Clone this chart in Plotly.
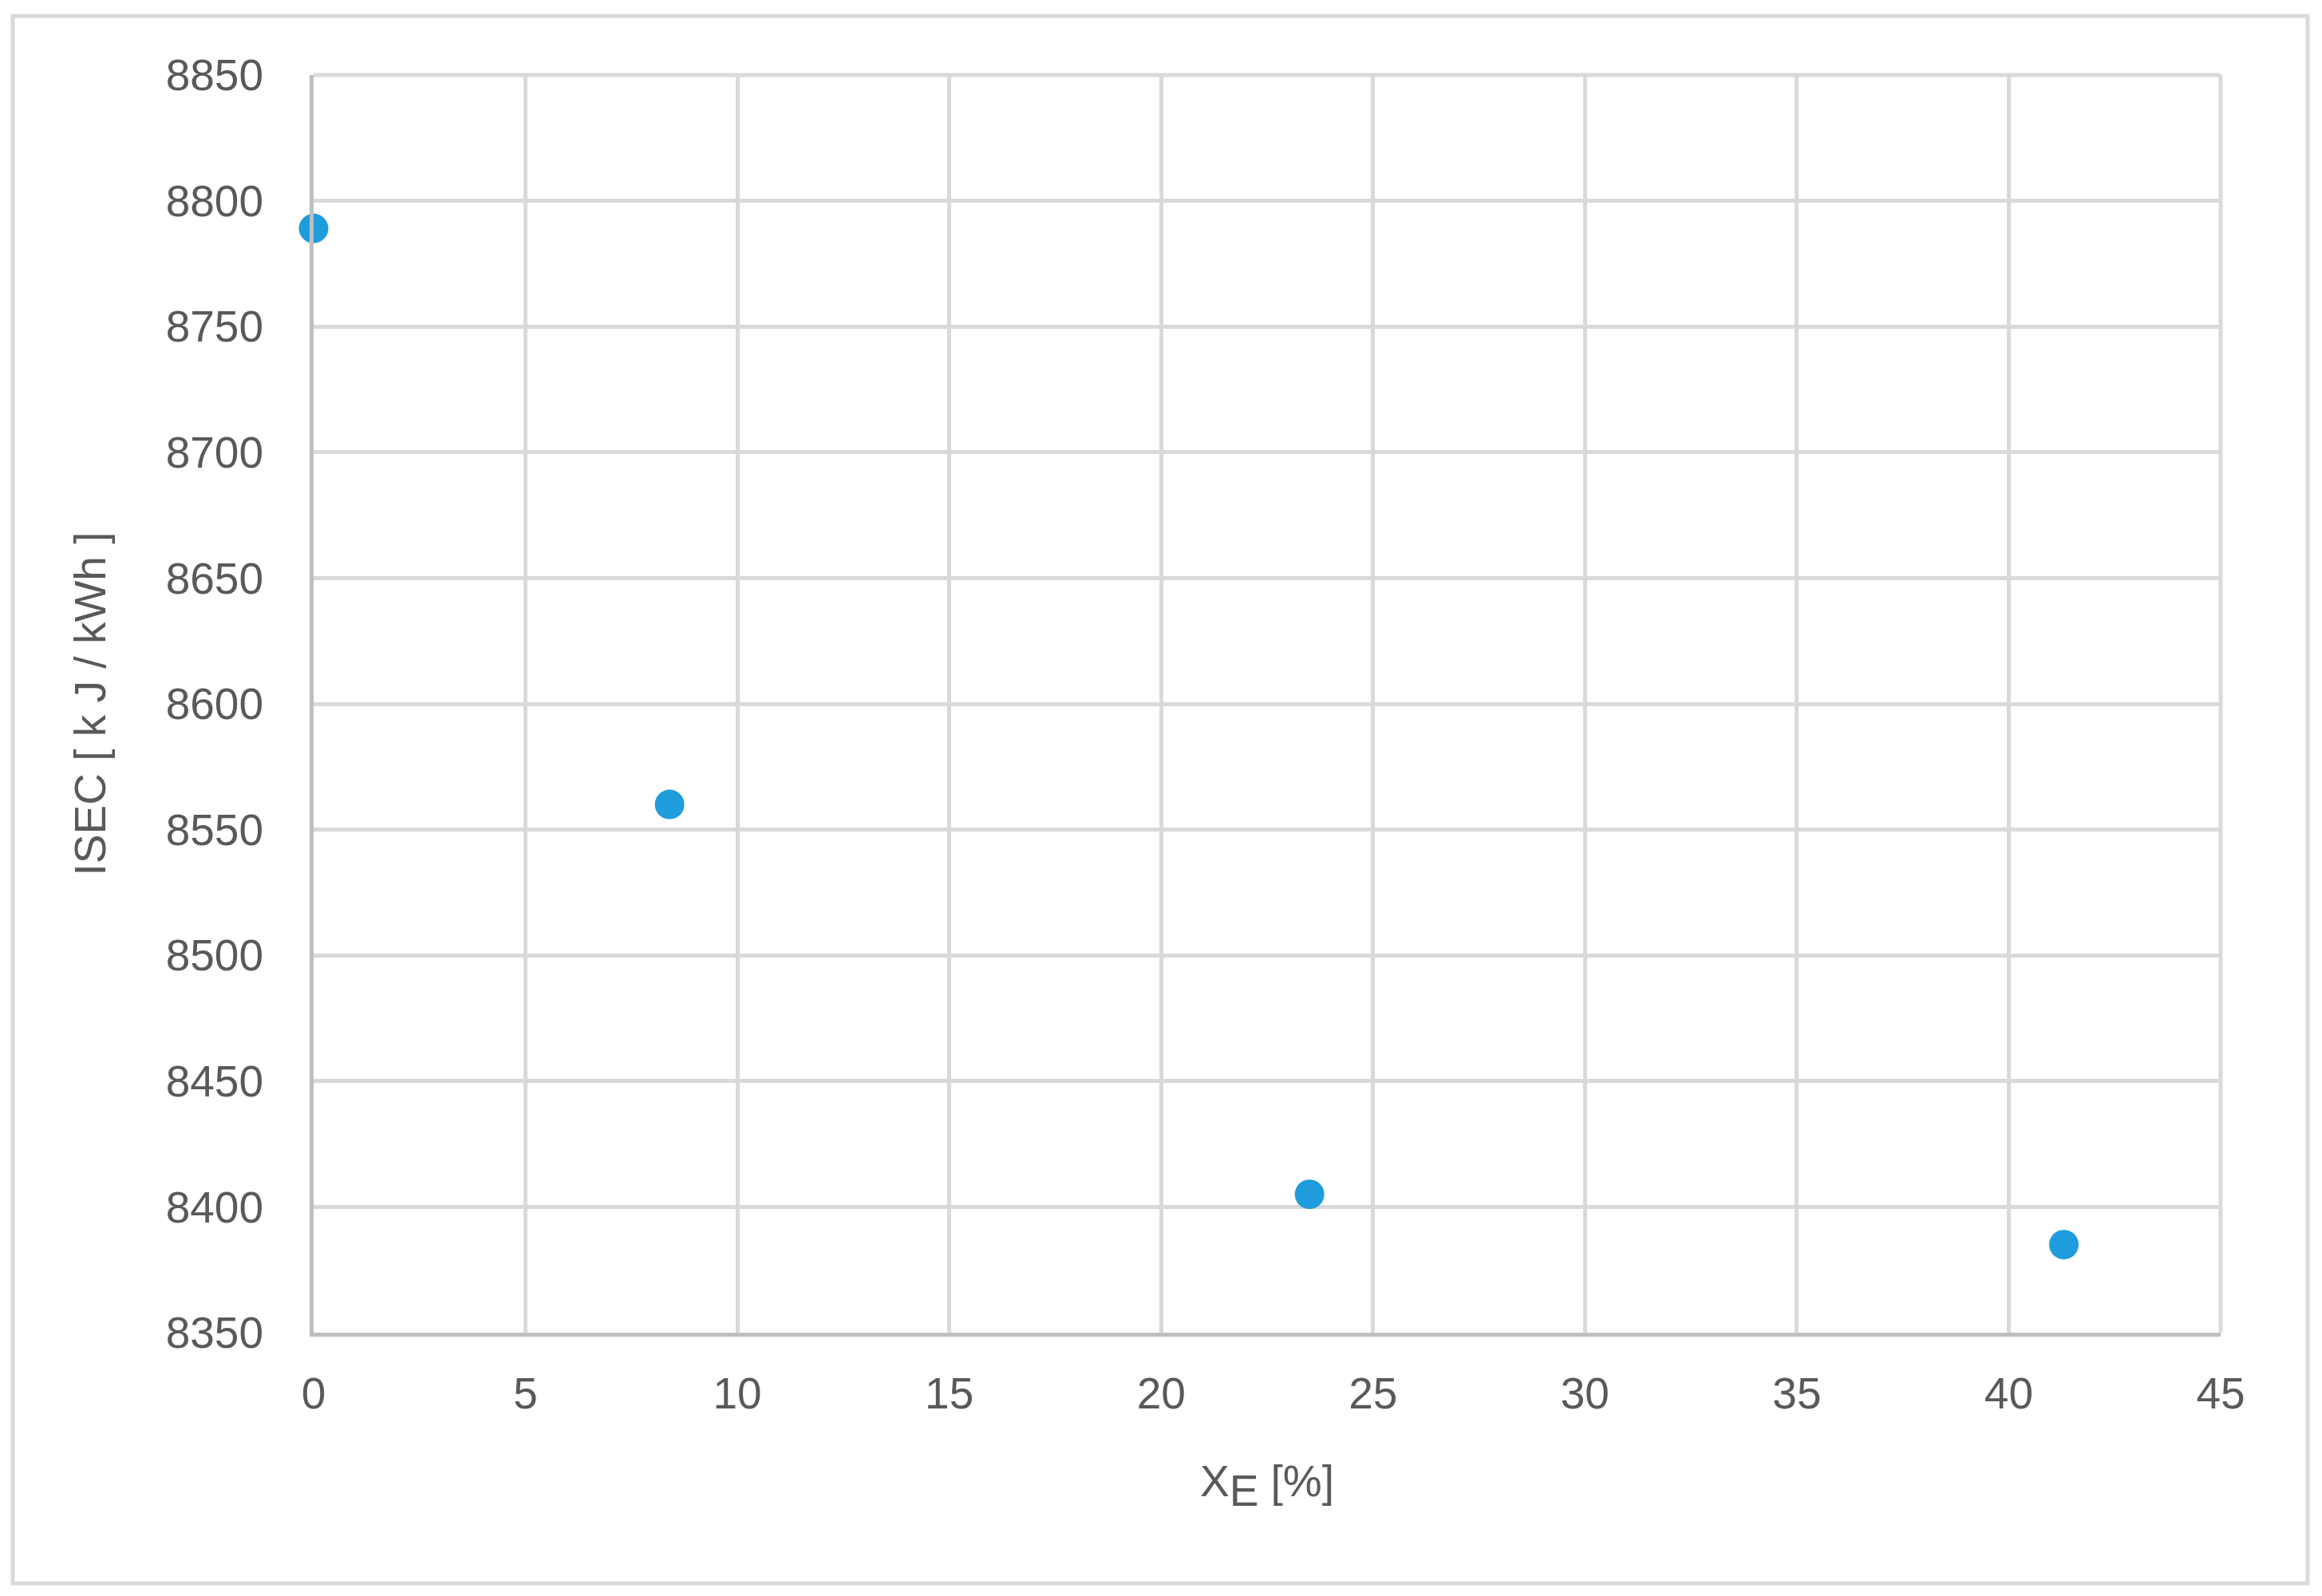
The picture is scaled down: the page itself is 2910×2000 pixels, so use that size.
import plotly.graph_objects as go

# data
xe_percent = [0.0, 8.4, 23.5, 41.3]
isec_kj_kwh = [8789, 8560, 8405, 8385]

x_ticks = [0, 5, 10, 15, 20, 25, 30, 35, 40, 45]
y_ticks = [8350, 8400, 8450, 8500, 8550, 8600, 8650, 8700, 8750, 8800, 8850]

# page body adds an 8px offset, so positions are shifted back by it
OFF = 8
W, H = 2910, 2000
ml, mr, mt, mb = 393 - OFF, 127 + OFF, 94 - OFF, 330 + OFF
pw, ph = W - ml - mr, H - mt - mb

txt = "#595959"
grid = "#D9D9D9"
fnt = "Liberation Sans"

fig = go.Figure()
fig.add_trace(go.Scatter(
    x=xe_percent, y=isec_kj_kwh, mode="markers",
    marker=dict(size=37, color="#1F9CDB", line=dict(width=0)),
    cliponaxis=False,
    showlegend=False,
))

fig.update_xaxes(
    range=[0, 45], tickvals=x_ticks, showgrid=True, gridcolor=grid, gridwidth=5,
    showline=True, linecolor="#BFBFBF", linewidth=5, zeroline=False,
    ticks="outside", ticklen=0, ticklabelstandoff=24,
    tickfont=dict(family=fnt, size=55, color=txt),
    title=dict(text="X<sub><span style='font-size:55px'>E</span></sub> [%]",
               font=dict(family=fnt, size=55, color=txt), standoff=62),
)
fig.update_yaxes(
    range=[8350, 8850], tickvals=y_ticks, showgrid=True, gridcolor=grid, gridwidth=5,
    showline=True, linecolor="#BFBFBF", linewidth=5, zeroline=False,
    ticks="outside", ticklen=0, ticklabelstandoff=47,
    tickfont=dict(family=fnt, size=55, color=txt),
    title=dict(text="ISEC [ k J / kWh ]", font=dict(family=fnt, size=55, color=txt), standoff=59),
)

# outer chart border (pixel positions converted to paper coords)
def px_x(p):
    return (p - OFF - ml) / pw

def px_y(p):
    return (H - mb - (p - OFF)) / ph

fig.add_shape(type="rect", xref="paper", yref="paper",
              x0=px_x(16), x1=px_x(2892), y0=px_y(1984), y1=px_y(20),
              line=dict(color=grid, width=5), layer="below")
# right and top grid edges
fig.add_shape(type="line", xref="paper", yref="paper", x0=1, x1=1, y0=0, y1=1,
              line=dict(color=grid, width=5))
fig.add_shape(type="line", xref="paper", yref="paper", x0=0, x1=1, y0=1, y1=1,
              line=dict(color=grid, width=5))

fig.update_layout(
    width=W, height=H,
    margin=dict(l=ml, r=mr, t=mt, b=mb, autoexpand=False),
    paper_bgcolor="white", plot_bgcolor="white",
    font=dict(family=fnt, color=txt),
)

fig.write_html("out.html")
